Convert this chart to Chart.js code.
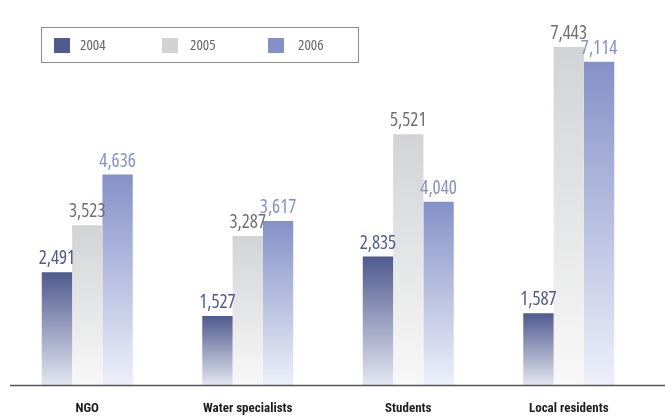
<!DOCTYPE html>
<html>
<head>
<meta charset="utf-8">
<script src="https://cdn.jsdelivr.net/npm/chart.js@4"></script>
<style>
  html, body { margin: 0; padding: 0; background: #fff; }
  #wrap { width: 665px; height: 417px; position: relative; }
</style>
</head>
<body>
<div id="wrap"><canvas id="groups-chart"></canvas></div>
<script>
const categories = ['NGO', 'Water specialists', 'Students', 'Local residents'];
const years = ['2004', '2005', '2006'];
const values2004 = [2491, 1527, 2835, 1587];
const values2005 = [3523, 3287, 5521, 7443];
const values2006 = [4636, 3617, 4040, 7114];

const topColors = ['#4f5a8f', '#d2d3d5', '#8491c8'];
const bottomColors = ['#e4e6f1', '#f8f8f8', '#eef0f9'];
const labelColors = ['#4f5a8f', '#6e6f72', '#8491c8'];
const narrowFont = '"Open Sans", sans-serif';

// vertical fade per bar: full colour at the top, almost white at the axis
function barGradient(ctx, i) {
    const chart = ctx.chart;
    const area = chart.chartArea;
    if (!area || ctx.type !== 'data') return topColors[i];
    const y = chart.scales.y;
    const top = y.getPixelForValue(ctx.raw);
    const g = chart.ctx.createLinearGradient(0, top, 0, area.bottom);
    g.addColorStop(0, topColors[i]);
    g.addColorStop(1, bottomColors[i]);
    return g;
}

const valueLabels = {
    id: 'valueLabels',
    afterDatasetsDraw(chart) {
        const { ctx } = chart;
        ctx.save();
        ctx.font = 'condensed 400 19px ' + narrowFont;
        ctx.textAlign = 'center';
        ctx.textBaseline = 'alphabetic';
        chart.data.datasets.forEach((ds, i) => {
            chart.getDatasetMeta(i).data.forEach((bar, j) => {
                ctx.fillStyle = labelColors[i];
                ctx.fillText(ds.data[j].toLocaleString('en-US'), bar.x, bar.y - 8);
            });
        });
        ctx.restore();
    }
};

const baseLine = {
    id: 'baseLine',
    afterDraw(chart) {
        const { ctx, chartArea } = chart;
        ctx.save();
        ctx.strokeStyle = '#555';
        ctx.lineWidth = 1.5;
        ctx.beginPath();
        ctx.moveTo(10, chartArea.bottom);
        ctx.lineTo(chart.width, chartArea.bottom);
        ctx.stroke();
        ctx.restore();
    }
};

// boxed legend in the top left corner
const boxLegend = {
    id: 'boxLegend',
    afterDraw(chart) {
        const { ctx } = chart;
        const swatchX = [54, 162, 268];
        const textX = [80, 190, 298];
        ctx.save();
        ctx.strokeStyle = '#8a8a8a';
        ctx.lineWidth = 1;
        ctx.strokeRect(41.5, 27.5, 317, 35);
        ctx.font = 'condensed 400 15px ' + narrowFont;
        ctx.textBaseline = 'middle';
        chart.data.datasets.forEach((ds, i) => {
            ctx.fillStyle = topColors[i];
            ctx.fillRect(swatchX[i], 38, 16, 15);
            ctx.fillStyle = '#666';
            ctx.fillText(ds.label, textX[i], 46);
        });
        ctx.restore();
    }
};

const seriesValues = [values2004, values2005, values2006];

new Chart(document.getElementById('groups-chart'), {
    type: 'bar',
    data: {
        labels: categories,
        datasets: years.map((yr, i) => ({
            label: yr,
            data: seriesValues[i],
            backgroundColor: ctx => barGradient(ctx, i),
            borderWidth: 0,
            barPercentage: 1,
            categoryPercentage: 0.567,
        })),
    },
    options: {
        responsive: true,
        maintainAspectRatio: false,
        animation: false,
        layout: { padding: { left: 7, right: 16, top: 17, bottom: 0 } },
        plugins: {
            legend: { display: false },
            tooltip: { enabled: false },
        },
        scales: {
            x: {
                grid: { display: false, drawTicks: false },
                border: { display: false },
                afterFit(scale) { scale.height = 31.5; },
                ticks: {
                    padding: 15,
                    color: '#1e1e1e',
                    font: { family: '"Roboto Condensed", sans-serif', size: 13, weight: 'bold' },
                },
            },
            y: {
                display: false,
                min: 0,
                max: 8100,
            },
        },
    },
    plugins: [valueLabels, baseLine, boxLegend],
});
</script>
</body>
</html>
